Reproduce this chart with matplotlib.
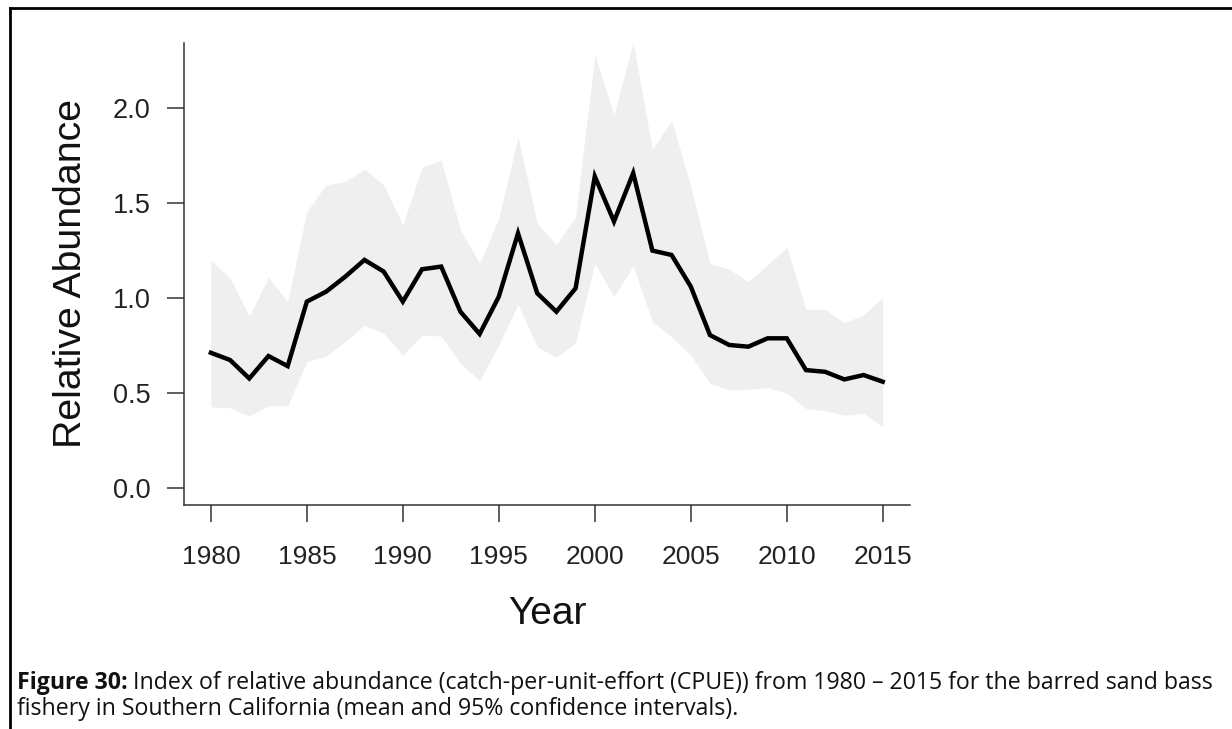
import matplotlib
matplotlib.use("Agg")
import matplotlib.pyplot as plt
from matplotlib.lines import Line2D

years = list(range(1980, 2016))
mean_cpue = [0.712, 0.674, 0.577, 0.695, 0.642, 0.981, 1.033, 1.112, 1.200, 1.139,
             0.981, 1.151, 1.165, 0.928, 0.811, 1.007, 1.340, 1.025, 0.928, 1.051,
             1.639, 1.402, 1.656, 1.249, 1.226, 1.060, 0.805, 0.753, 0.744, 0.788,
             0.788, 0.621, 0.612, 0.572, 0.595, 0.560]
upper_ci = [1.200, 1.104, 0.905, 1.109, 0.981, 1.454, 1.595, 1.612, 1.677, 1.595,
            1.384, 1.688, 1.723, 1.358, 1.182, 1.419, 1.846, 1.393, 1.279, 1.428,
            2.279, 1.963, 2.344, 1.779, 1.933, 1.586, 1.182, 1.151, 1.086, 1.174,
            1.267, 0.940, 0.940, 0.870, 0.911, 1.004]
lower_ci = [0.428, 0.423, 0.379, 0.433, 0.433, 0.665, 0.695, 0.770, 0.858, 0.814,
            0.700, 0.805, 0.800, 0.656, 0.565, 0.753, 0.968, 0.744, 0.688, 0.765,
            1.182, 1.007, 1.168, 0.875, 0.796, 0.700, 0.551, 0.516, 0.520, 0.530,
            0.498, 0.419, 0.407, 0.384, 0.393, 0.323]
x_ticks = [1980, 1985, 1990, 1995, 2000, 2005, 2010, 2015]
y_ticks = [0.0, 0.5, 1.0, 1.5, 2.0]
y_tick_labels = ["0.0", "0.5", "1.0", "1.5", "2.0"]

W, H = 1232, 729
fig = plt.figure(figsize=(W / 100, H / 100), dpi=100)
fig.patch.set_facecolor("white")

ax_l, ax_r, ax_t, ax_b = 184, 910, 43, 505
ax = fig.add_axes([ax_l / W, 1 - ax_b / H, (ax_r - ax_l) / W, (ax_b - ax_t) / H])

ax.fill_between(years, lower_ci, upper_ci, color="#efefef", linewidth=0, zorder=1)
ax.plot(years, mean_cpue, color="black", linewidth=3.2, zorder=2,
        solid_joinstyle="miter")

ax.set_xlim(1978.6, 2016.42)
ax.set_ylim(-0.088, 2.34)

for s in ["top", "right"]:
    ax.spines[s].set_visible(False)
for s in ["left", "bottom"]:
    ax.spines[s].set_color("#333333")
    ax.spines[s].set_linewidth(1.1)

ax.set_xticks(x_ticks)
ax.set_xticklabels([str(t) for t in x_ticks], family=["Liberation Sans", "DejaVu Sans"],
                   size=19)
ax.set_yticks(y_ticks)
ax.set_yticklabels(y_tick_labels, family=["Liberation Sans", "DejaVu Sans"], size=19.5)
ax.tick_params(axis="both", direction="out", length=12, width=1.1, color="#333333",
               labelcolor="#222222")
ax.tick_params(axis="x", pad=17)
ax.tick_params(axis="y", pad=12)

ax.set_xlabel("Year", labelpad=19, family=["Liberation Sans", "DejaVu Sans"],
              size=28, color="#111111")
ax.set_ylabel("Relative Abundance", labelpad=17, family=["Liberation Sans", "DejaVu Sans"],
              size=28.3, color="#111111")

# frame lines (top and left) around the figure block
fig.add_artist(Line2D([10 / W, 1.0], [1 - 8 / H, 1 - 8 / H], color="black",
                      linewidth=2.0, transform=fig.transFigure))
fig.add_artist(Line2D([10 / W, 10 / W], [1 - 8 / H, 0.0], color="black",
                      linewidth=2.0, transform=fig.transFigure))

# caption
cap_font = ["Open Sans", "DejaVu Sans"]
line1_bold = "Figure 30:"
line1_rest = "Index of relative abundance (catch-per-unit-effort (CPUE)) from 1980 \u2013 2015 for the barred sand bass"
line2 = "fishery in Southern California (mean and 95% confidence intervals)."
renderer = fig.canvas.get_renderer()
x0_px, x1_px = 17, 1213
base_size = 15.0


def draw_line1(size):
    tb = fig.text(x0_px / W, 1 - 689 / H, line1_bold, family=cap_font, weight="bold",
                  size=size, color="#111111", va="baseline")
    bb = tb.get_window_extent(renderer=renderer)
    tr = fig.text((bb.x1 + size * 0.3) / W, 1 - 689 / H, line1_rest, family=cap_font,
                  size=size, color="#111111", va="baseline")
    return tb, tr


tb, tr = draw_line1(base_size)
width = tr.get_window_extent(renderer=renderer).x1 - x0_px
cap_size = base_size * (x1_px - x0_px) / width
tb.remove()
tr.remove()
draw_line1(cap_size)
fig.text(x0_px / W, 1 - 715 / H, line2, family=cap_font, size=cap_size,
         color="#111111", va="baseline")

fig.savefig("out.png", dpi=100, facecolor="white")
